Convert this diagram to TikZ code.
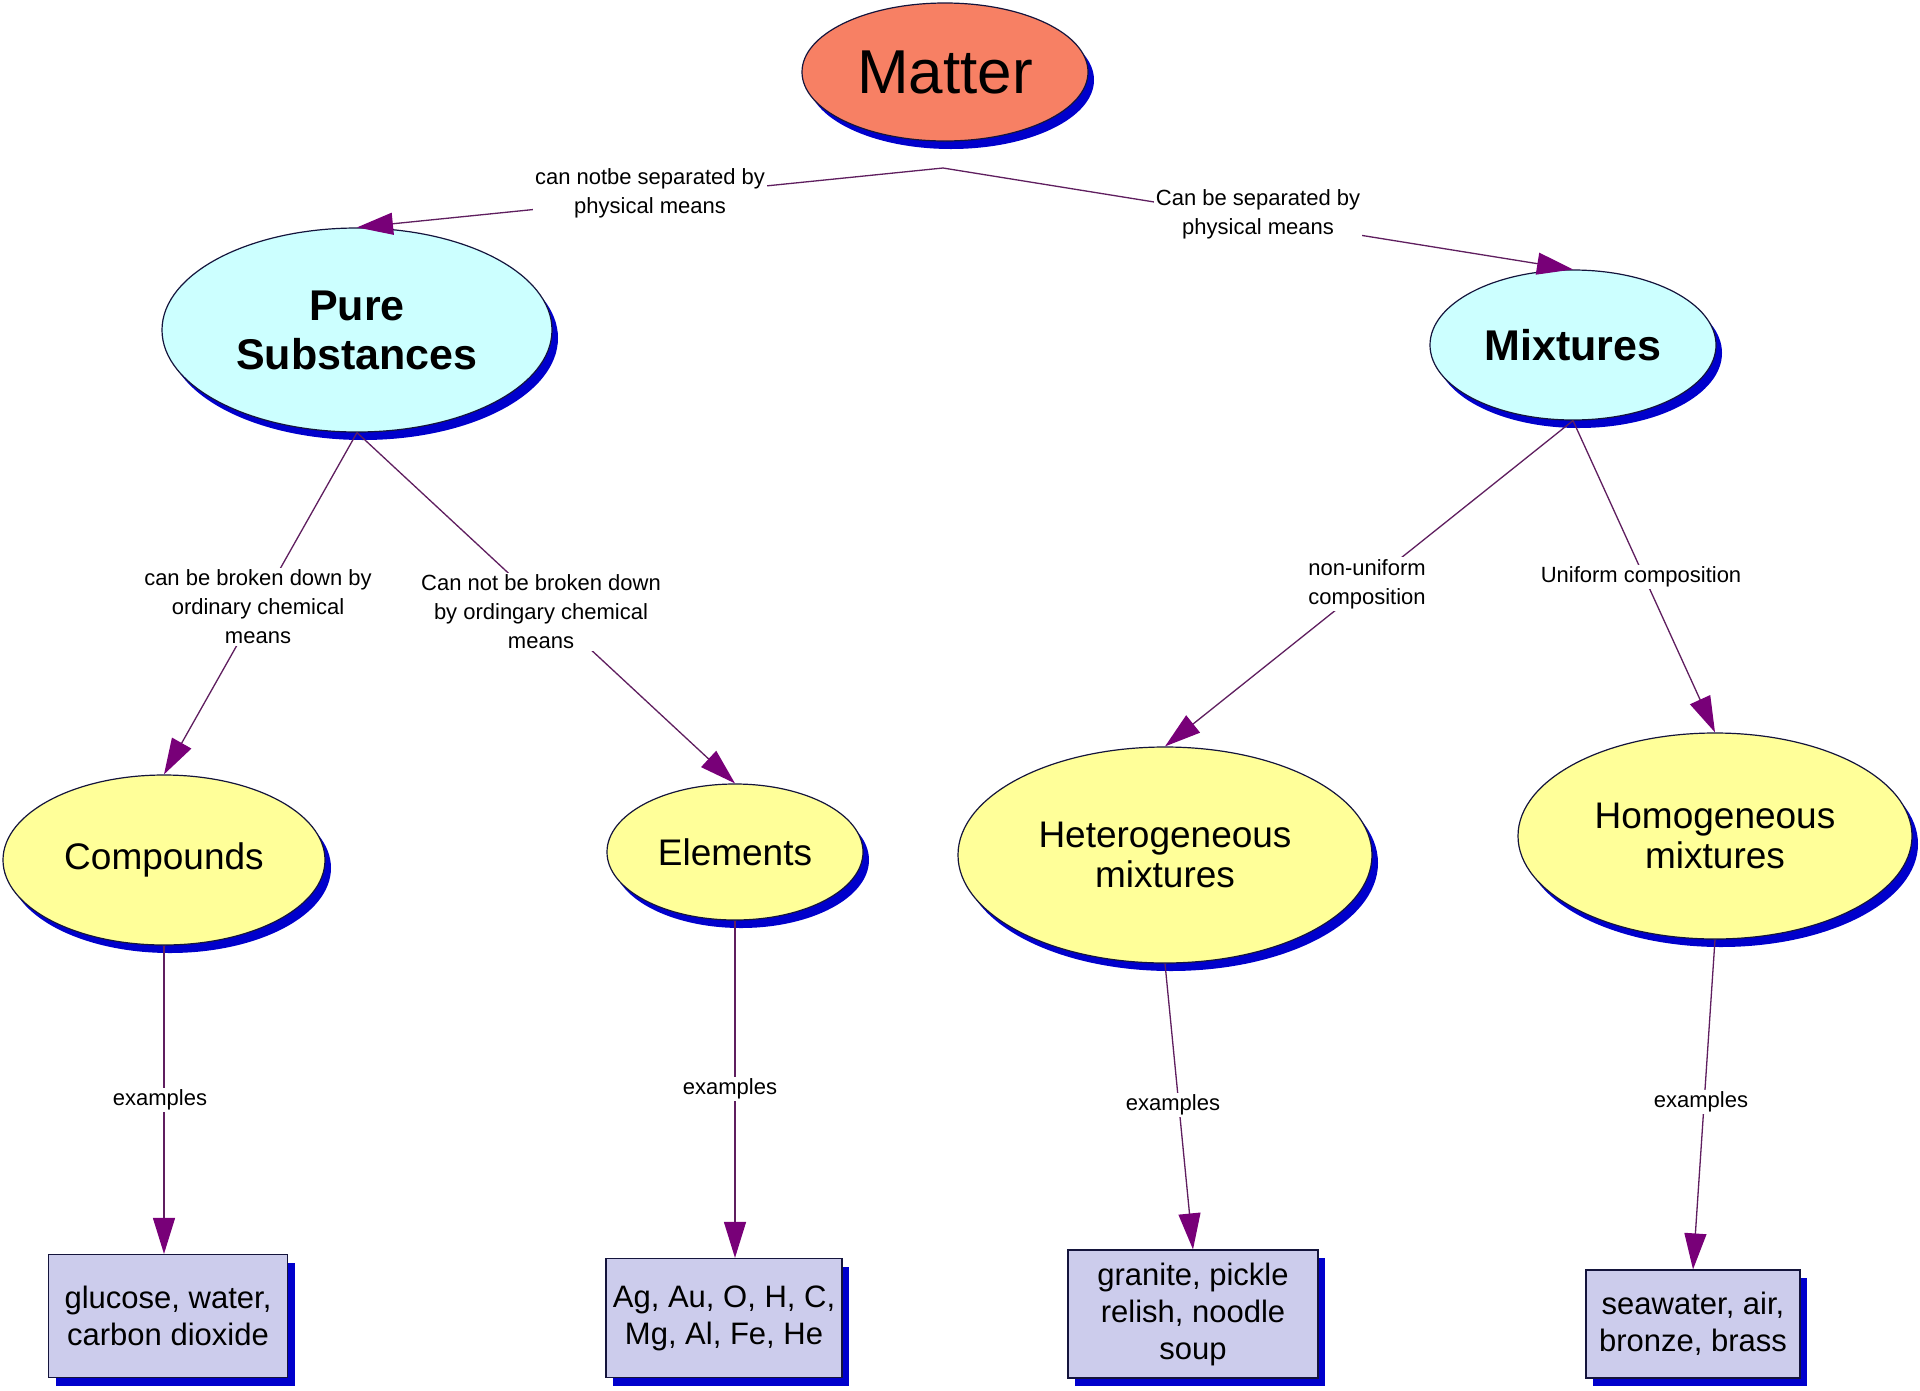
\documentclass[tikz,border=0pt]{standalone}
\usepackage{fontspec}
\setmainfont{Liberation Sans}
\usetikzlibrary{shapes.geometric,shadows,arrows.meta}
\definecolor{matterfill}{RGB}{247,128,100}
\definecolor{cyanfill}{RGB}{204,255,255}
\definecolor{yellowfill}{RGB}{255,255,153}
\definecolor{boxfill}{RGB}{204,204,236}
\definecolor{shadowblue}{RGB}{0,0,204}
\definecolor{linkcol}{RGB}{95,30,95}
\definecolor{tipcol}{RGB}{120,0,120}
\definecolor{edgecol}{RGB}{20,20,60}
\begin{document}
\begin{tikzpicture}[x=1pt,y=-1pt,
  oval/.style={ellipse, draw=edgecol, line width=1.2pt, inner sep=0pt, align=center,
    drop shadow={shadow xshift=6pt, shadow yshift=-8pt, fill=shadowblue, opacity=1}},
  exbox/.style={rectangle, draw=edgecol, line width=1.2pt, fill=boxfill, inner sep=0pt, align=center,
    font=\fontsize{31}{37}\selectfont,
    drop shadow={shadow xshift=7pt, shadow yshift=-8pt, fill=shadowblue, opacity=1}},
  lbl/.style={fill=white, inner sep=2pt, align=center, font=\fontsize{22}{29}\selectfont},
  link/.style={draw=linkcol, line width=1.3pt, -{Triangle[length=36pt,width=22pt,color=tipcol]}}
]
\useasboundingbox (0,0) rectangle (1920,1390);
\fill[white] (0,0) rectangle (1920,1390);

% main ellipses
\node[oval, fill=matterfill, minimum width=286pt, minimum height=138pt, font=\fontsize{62}{66}\selectfont] (Matter) at (945,72) {Matter};
\node[oval, fill=cyanfill, minimum width=390pt, minimum height=204pt, font=\bfseries\fontsize{43}{49}\selectfont] (Pure) at (357,330) {Pure\\Substances};
\node[oval, fill=cyanfill, minimum width=286pt, minimum height=150pt, font=\bfseries\fontsize{43}{49}\selectfont] (Mix) at (1573,345) {Mixtures};
\node[oval, fill=yellowfill, minimum width=322pt, minimum height=170pt, font=\fontsize{37}{40}\selectfont] (Comp) at (164,860) {Compounds};
\node[oval, fill=yellowfill, minimum width=256pt, minimum height=136pt, font=\fontsize{37}{40}\selectfont] (Elem) at (735,852) {Elements};
\node[oval, fill=yellowfill, minimum width=414pt, minimum height=216pt, font=\fontsize{37}{40}\selectfont] (Het) at (1165,855) {Heterogeneous\\mixtures};
\node[oval, fill=yellowfill, minimum width=394pt, minimum height=206pt, font=\fontsize{37}{40}\selectfont] (Hom) at (1715,836) {Homogeneous\\mixtures};

% example boxes
\node[exbox, minimum width=239pt, minimum height=123pt] (BComp) at (168,1316) {glucose, water,\\carbon dioxide};
\node[exbox, minimum width=236pt, minimum height=119pt] (BElem) at (724,1318) {Ag, Au, O, H, C,\\Mg, Al, Fe, He};
\node[exbox, minimum width=250pt, minimum height=128pt] (BHet) at (1193,1314) {granite, pickle\\relish, noodle\\soup};
\node[exbox, minimum width=214pt, minimum height=108pt] (BHom) at (1693,1324) {seawater, air,\\bronze, brass};

% connectors
\coordinate (split) at (943,168);
\draw[link] (split) -- (Pure.north);
\draw[link] (split) -- (Mix.north);
\draw[link] (Pure.south) -- (Comp.north);
\draw[link] (Pure.south) -- (Elem.north);
\draw[link] (Mix.south) -- (Het.north);
\draw[link] (Mix.south) -- (Hom.north);
\draw[link] (Comp.south) -- (Comp.south |- BComp.north);
\draw[link] (Elem.south) -- (Elem.south |- BElem.north);
\draw[link] (Het.south) -- (BHet.north);
\draw[link] (Hom.south) -- (BHom.north);

% connector labels
\node[lbl] (L1) at (650,193) {can notbe separated by\\physical means};
\node[lbl] (L2) at (1258,214) {Can  be separated by\\physical  means};
\node[lbl] (L3) at (258,607) {can be broken down by\\ordinary chemical\\means};
\node[lbl] (L4) at (541,612) {Can not be broken down\\by ordingary chemical\\means};
\node[lbl] (L5) at (1367,584) {non-uniform\\composition};
\node[lbl] (L6) at (1641,577) {Uniform composition};
\node[lbl] (L7) at (160,1100) {examples};
\node[lbl] (L8) at (730,1089) {examples};
\node[lbl] (L9) at (1173,1105) {examples};
\node[lbl] (L10) at (1701,1102) {examples};
\end{tikzpicture}
\end{document}
